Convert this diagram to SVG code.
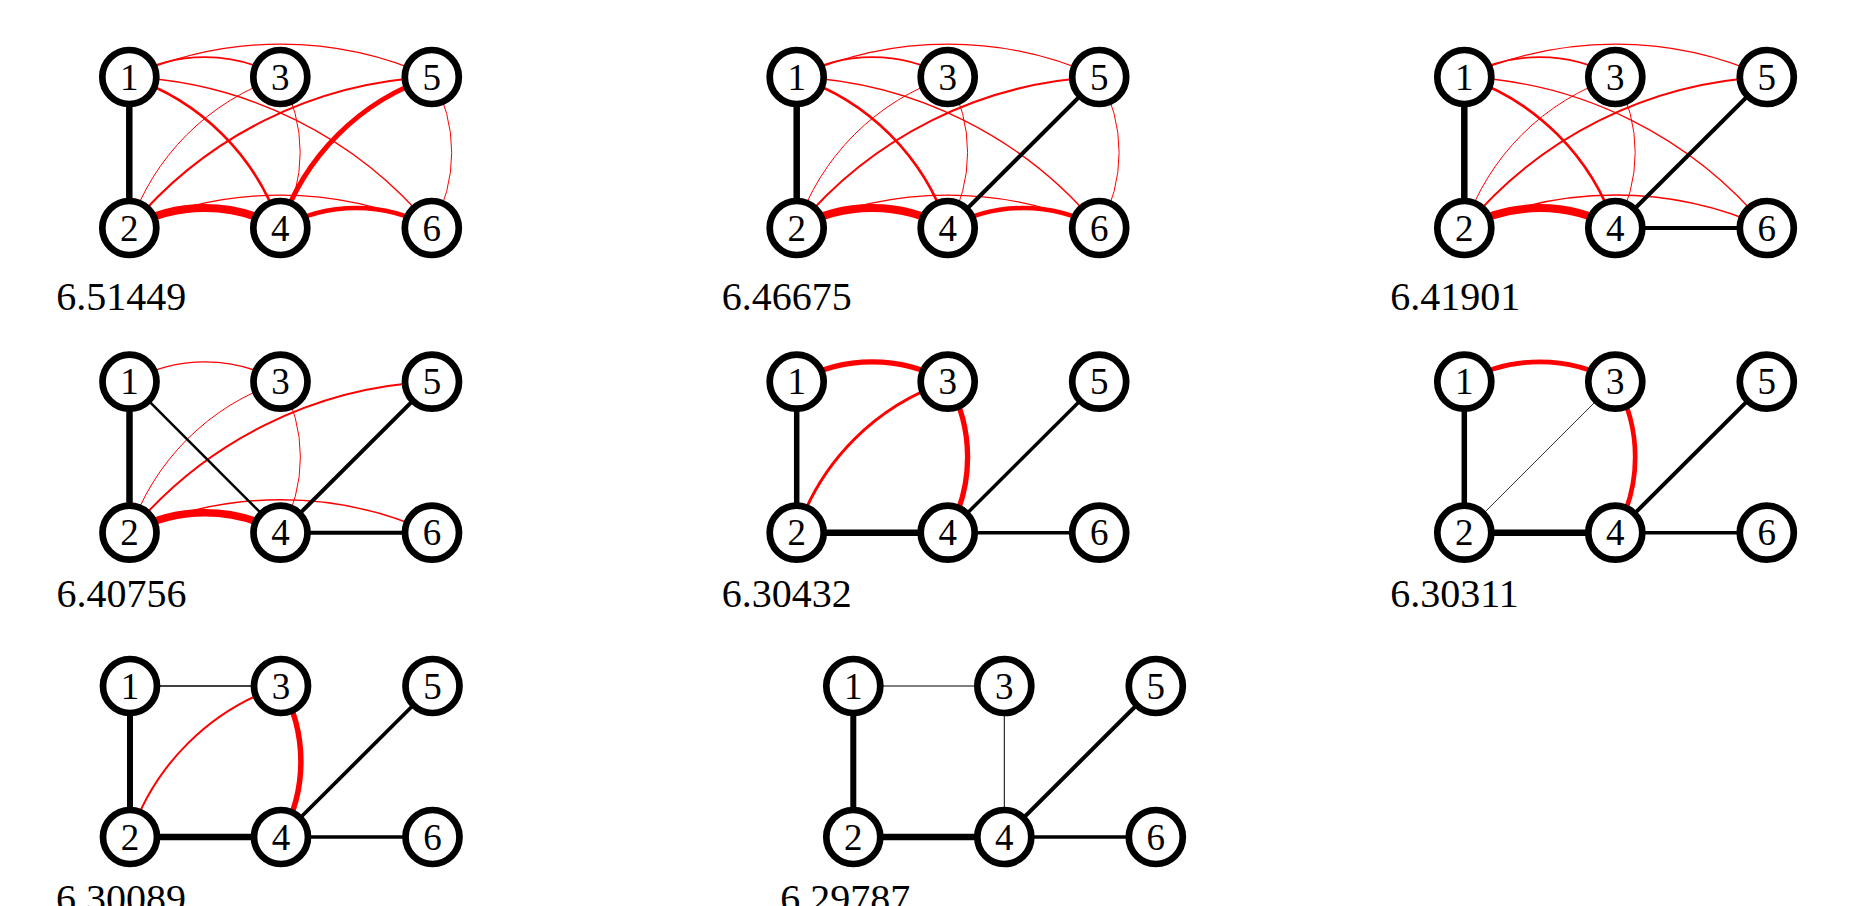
<svg xmlns="http://www.w3.org/2000/svg" width="1863" height="906" viewBox="0 0 1863 906">
<style>
.n circle{fill:#fff;stroke:#000;stroke-width:6.7}
.n text{font-family:'Liberation Serif','Times New Roman',Times,serif;font-size:37px;text-anchor:middle;fill:#000}
.lbl{font-family:'Liberation Serif','Times New Roman',Times,serif;font-size:40px;fill:#000}
.r{fill:none;stroke:#f00}
.k{fill:none;stroke:#000}
</style>
<rect width="1863" height="906" fill="#fff"/>

<!-- Panel 1 -->
<g id="panel1" transform="translate(129.3,77)">
<g id="p1-edges">
<path class="r" stroke-width="1.7" d="M0,0 A153.2,153.2 0 0 1 151,0"/>
<path class="r" stroke-width="1.3" d="M0,0 A364.1,364.1 0 0 1 302.5,0"/>
<path class="r" stroke-width="2.7" d="M0,0 A237.9,237.9 0 0 1 151,151"/>
<path class="r" stroke-width="1.3" d="M0,0 A416,416 0 0 1 302.5,151"/>
<path class="r" stroke-width="1" d="M0,151 A237.9,237.9 0 0 1 151,0"/>
<path class="r" stroke-width="2" d="M0,151 A416,416 0 0 1 302.5,0"/>
<path class="r" stroke-width="1" d="M151,0 A153.2,153.2 0 0 1 151,151"/>
<path class="r" stroke-width="5" d="M151,151 A238,238 0 0 1 302.5,0"/>
<path class="r" stroke-width="1" d="M302.5,0 A153.2,153.2 0 0 1 302.5,151"/>
<path class="r" stroke-width="8" d="M0,151 A153.2,153.2 0 0 1 151,151"/>
<path class="r" stroke-width="1.3" d="M0,151 A364.1,364.1 0 0 1 302.5,151"/>
<path class="r" stroke-width="4.5" d="M151,151 A153.5,153.5 0 0 1 302.5,151"/>
<path class="k" stroke-width="6.5" d="M0,0 V151"/>
</g>
<g id="p1-n1" class="n"><circle cx="0" cy="0" r="27"/><text x="0" y="12.5">1</text></g>
<g id="p1-n2" class="n"><circle cx="0" cy="151" r="27"/><text x="0" y="163.5">2</text></g>
<g id="p1-n3" class="n"><circle cx="151" cy="0" r="27"/><text x="151" y="12.5">3</text></g>
<g id="p1-n4" class="n"><circle cx="151" cy="151" r="27"/><text x="151" y="163.5">4</text></g>
<g id="p1-n5" class="n"><circle cx="302.5" cy="0" r="27"/><text x="302.5" y="12.5">5</text></g>
<g id="p1-n6" class="n"><circle cx="302.5" cy="151" r="27"/><text x="302.5" y="163.5">6</text></g>
<text class="lbl" x="-73" y="233">6.51449</text>
</g>

<!-- Panel 2 -->
<g id="panel2" transform="translate(796.7,77)">
<g id="p2-edges">
<path class="r" stroke-width="1.7" d="M0,0 A153.2,153.2 0 0 1 151,0"/>
<path class="r" stroke-width="1.3" d="M0,0 A364.1,364.1 0 0 1 302.5,0"/>
<path class="r" stroke-width="2.7" d="M0,0 A237.9,237.9 0 0 1 151,151"/>
<path class="r" stroke-width="1.3" d="M0,0 A416,416 0 0 1 302.5,151"/>
<path class="r" stroke-width="1" d="M0,151 A237.9,237.9 0 0 1 151,0"/>
<path class="r" stroke-width="2" d="M0,151 A416,416 0 0 1 302.5,0"/>
<path class="r" stroke-width="1" d="M151,0 A153.2,153.2 0 0 1 151,151"/>
<path class="r" stroke-width="1" d="M302.5,0 A153.2,153.2 0 0 1 302.5,151"/>
<path class="r" stroke-width="8" d="M0,151 A153.2,153.2 0 0 1 151,151"/>
<path class="r" stroke-width="1.3" d="M0,151 A364.1,364.1 0 0 1 302.5,151"/>
<path class="r" stroke-width="4.5" d="M151,151 A153.5,153.5 0 0 1 302.5,151"/>
<path class="k" stroke-width="6.5" d="M0,0 V151"/>
<path class="k" stroke-width="4" d="M151,151 L302.5,0"/>
</g>
<g id="p2-n1" class="n"><circle cx="0" cy="0" r="27"/><text x="0" y="12.5">1</text></g>
<g id="p2-n2" class="n"><circle cx="0" cy="151" r="27"/><text x="0" y="163.5">2</text></g>
<g id="p2-n3" class="n"><circle cx="151" cy="0" r="27"/><text x="151" y="12.5">3</text></g>
<g id="p2-n4" class="n"><circle cx="151" cy="151" r="27"/><text x="151" y="163.5">4</text></g>
<g id="p2-n5" class="n"><circle cx="302.5" cy="0" r="27"/><text x="302.5" y="12.5">5</text></g>
<g id="p2-n6" class="n"><circle cx="302.5" cy="151" r="27"/><text x="302.5" y="163.5">6</text></g>
<text class="lbl" x="-75" y="233">6.46675</text>
</g>

<!-- Panel 3 -->
<g id="panel3" transform="translate(1464.3,77)">
<g id="p3-edges">
<path class="r" stroke-width="1.7" d="M0,0 A153.2,153.2 0 0 1 151,0"/>
<path class="r" stroke-width="1.3" d="M0,0 A364.1,364.1 0 0 1 302.5,0"/>
<path class="r" stroke-width="2.7" d="M0,0 A237.9,237.9 0 0 1 151,151"/>
<path class="r" stroke-width="1.3" d="M0,0 A416,416 0 0 1 302.5,151"/>
<path class="r" stroke-width="1" d="M0,151 A237.9,237.9 0 0 1 151,0"/>
<path class="r" stroke-width="2" d="M0,151 A416,416 0 0 1 302.5,0"/>
<path class="r" stroke-width="1" d="M151,0 A153.2,153.2 0 0 1 151,151"/>
<path class="r" stroke-width="8" d="M0,151 A153.2,153.2 0 0 1 151,151"/>
<path class="r" stroke-width="1.5" d="M0,151 A364.1,364.1 0 0 1 302.5,151"/>
<path class="k" stroke-width="6.5" d="M0,0 V151"/>
<path class="k" stroke-width="4" d="M151,151 L302.5,0"/>
<path class="k" stroke-width="4" d="M151,151 H302.5"/>
</g>
<g id="p3-n1" class="n"><circle cx="0" cy="0" r="27"/><text x="0" y="12.5">1</text></g>
<g id="p3-n2" class="n"><circle cx="0" cy="151" r="27"/><text x="0" y="163.5">2</text></g>
<g id="p3-n3" class="n"><circle cx="151" cy="0" r="27"/><text x="151" y="12.5">3</text></g>
<g id="p3-n4" class="n"><circle cx="151" cy="151" r="27"/><text x="151" y="163.5">4</text></g>
<g id="p3-n5" class="n"><circle cx="302.5" cy="0" r="27"/><text x="302.5" y="12.5">5</text></g>
<g id="p3-n6" class="n"><circle cx="302.5" cy="151" r="27"/><text x="302.5" y="163.5">6</text></g>
<text class="lbl" x="-74" y="233">6.41901</text>
</g>

<!-- Panel 4 -->
<g id="panel4" transform="translate(129.5,381.7)">
<g id="p4-edges">
<path class="r" stroke-width="1.3" d="M0,0 A153.2,153.2 0 0 1 151,0"/>
<path class="r" stroke-width="1" d="M0,151 A237.9,237.9 0 0 1 151,0"/>
<path class="r" stroke-width="2" d="M0,151 A416,416 0 0 1 302.5,0"/>
<path class="r" stroke-width="1" d="M151,0 A153.2,153.2 0 0 1 151,151"/>
<path class="r" stroke-width="7.5" d="M0,151 A153.2,153.2 0 0 1 151,151"/>
<path class="r" stroke-width="1.5" d="M0,151 A364.1,364.1 0 0 1 302.5,151"/>
<path class="k" stroke-width="6.5" d="M0,0 V151"/>
<path class="k" stroke-width="2.5" d="M0,0 L151,151"/>
<path class="k" stroke-width="4" d="M151,151 L302.5,0"/>
<path class="k" stroke-width="4" d="M151,151 H302.5"/>
</g>
<g id="p4-n1" class="n"><circle cx="0" cy="0" r="27"/><text x="0" y="12.5">1</text></g>
<g id="p4-n2" class="n"><circle cx="0" cy="151" r="27"/><text x="0" y="163.5">2</text></g>
<g id="p4-n3" class="n"><circle cx="151" cy="0" r="27"/><text x="151" y="12.5">3</text></g>
<g id="p4-n4" class="n"><circle cx="151" cy="151" r="27"/><text x="151" y="163.5">4</text></g>
<g id="p4-n5" class="n"><circle cx="302.5" cy="0" r="27"/><text x="302.5" y="12.5">5</text></g>
<g id="p4-n6" class="n"><circle cx="302.5" cy="151" r="27"/><text x="302.5" y="163.5">6</text></g>
<text class="lbl" x="-73" y="225.5">6.40756</text>
</g>

<!-- Panel 5 -->
<g id="panel5" transform="translate(796.7,381.7)">
<g id="p5-edges">
<path class="r" stroke-width="5.3" d="M0,0 A153.2,153.2 0 0 1 151,0"/>
<path class="r" stroke-width="3" d="M0,151 A237.9,237.9 0 0 1 151,0"/>
<path class="r" stroke-width="5.3" d="M151,0 A153.2,153.2 0 0 1 151,151"/>
<path class="k" stroke-width="5.5" d="M0,0 V151"/>
<path class="k" stroke-width="6.5" d="M0,151 H151"/>
<path class="k" stroke-width="3.5" d="M151,151 L302.5,0"/>
<path class="k" stroke-width="3.5" d="M151,151 H302.5"/>
</g>
<g id="p5-n1" class="n"><circle cx="0" cy="0" r="27"/><text x="0" y="12.5">1</text></g>
<g id="p5-n2" class="n"><circle cx="0" cy="151" r="27"/><text x="0" y="163.5">2</text></g>
<g id="p5-n3" class="n"><circle cx="151" cy="0" r="27"/><text x="151" y="12.5">3</text></g>
<g id="p5-n4" class="n"><circle cx="151" cy="151" r="27"/><text x="151" y="163.5">4</text></g>
<g id="p5-n5" class="n"><circle cx="302.5" cy="0" r="27"/><text x="302.5" y="12.5">5</text></g>
<g id="p5-n6" class="n"><circle cx="302.5" cy="151" r="27"/><text x="302.5" y="163.5">6</text></g>
<text class="lbl" x="-75" y="225.5">6.30432</text>
</g>

<!-- Panel 6 -->
<g id="panel6" transform="translate(1464.3,381.7)">
<g id="p6-edges">
<path class="k" stroke-width="0.8" d="M0,151 L151,0"/>
<path class="r" stroke-width="4.7" d="M0,0 A153.2,153.2 0 0 1 151,0"/>
<path class="r" stroke-width="4.7" d="M151,0 A153.2,153.2 0 0 1 151,151"/>
<path class="k" stroke-width="5.5" d="M0,0 V151"/>
<path class="k" stroke-width="6.5" d="M0,151 H151"/>
<path class="k" stroke-width="4" d="M151,151 L302.5,0"/>
<path class="k" stroke-width="3.5" d="M151,151 H302.5"/>
</g>
<g id="p6-n1" class="n"><circle cx="0" cy="0" r="27"/><text x="0" y="12.5">1</text></g>
<g id="p6-n2" class="n"><circle cx="0" cy="151" r="27"/><text x="0" y="163.5">2</text></g>
<g id="p6-n3" class="n"><circle cx="151" cy="0" r="27"/><text x="151" y="12.5">3</text></g>
<g id="p6-n4" class="n"><circle cx="151" cy="151" r="27"/><text x="151" y="163.5">4</text></g>
<g id="p6-n5" class="n"><circle cx="302.5" cy="0" r="27"/><text x="302.5" y="12.5">5</text></g>
<g id="p6-n6" class="n"><circle cx="302.5" cy="151" r="27"/><text x="302.5" y="163.5">6</text></g>
<text class="lbl" x="-74" y="225.5">6.30311</text>
</g>

<!-- Panel 7 -->
<g id="panel7" transform="translate(130,686)">
<g id="p7-edges">
<path class="k" stroke-width="1.3" d="M0,0 H151"/>
<path class="r" stroke-width="2" d="M0,151 A237.9,237.9 0 0 1 151,0"/>
<path class="r" stroke-width="5.5" d="M151,0 A153.2,153.2 0 0 1 151,151"/>
<path class="k" stroke-width="6" d="M0,0 V151"/>
<path class="k" stroke-width="6.5" d="M0,151 H151"/>
<path class="k" stroke-width="3.7" d="M151,151 L302.5,0"/>
<path class="k" stroke-width="3.5" d="M151,151 H302.5"/>
</g>
<g id="p7-n1" class="n"><circle cx="0" cy="0" r="27"/><text x="0" y="12.5">1</text></g>
<g id="p7-n2" class="n"><circle cx="0" cy="151" r="27"/><text x="0" y="163.5">2</text></g>
<g id="p7-n3" class="n"><circle cx="151" cy="0" r="27"/><text x="151" y="12.5">3</text></g>
<g id="p7-n4" class="n"><circle cx="151" cy="151" r="27"/><text x="151" y="163.5">4</text></g>
<g id="p7-n5" class="n"><circle cx="302.5" cy="0" r="27"/><text x="302.5" y="12.5">5</text></g>
<g id="p7-n6" class="n"><circle cx="302.5" cy="151" r="27"/><text x="302.5" y="163.5">6</text></g>
<text class="lbl" x="-74" y="226">6.30089</text>
</g>

<!-- Panel 8 -->
<g id="panel8" transform="translate(853.3,686)">
<g id="p8-edges">
<path class="k" stroke="#333" stroke-width="1.2" d="M0,0 H151"/>
<path class="k" stroke="#444" stroke-width="1" d="M151,0 V151"/>
<path class="k" stroke-width="6" d="M0,0 V151"/>
<path class="k" stroke-width="6.5" d="M0,151 H151"/>
<path class="k" stroke-width="4" d="M151,151 L302.5,0"/>
<path class="k" stroke-width="3.5" d="M151,151 H302.5"/>
</g>
<g id="p8-n1" class="n"><circle cx="0" cy="0" r="27"/><text x="0" y="12.5">1</text></g>
<g id="p8-n2" class="n"><circle cx="0" cy="151" r="27"/><text x="0" y="163.5">2</text></g>
<g id="p8-n3" class="n"><circle cx="151" cy="0" r="27"/><text x="151" y="12.5">3</text></g>
<g id="p8-n4" class="n"><circle cx="151" cy="151" r="27"/><text x="151" y="163.5">4</text></g>
<g id="p8-n5" class="n"><circle cx="302.5" cy="0" r="27"/><text x="302.5" y="12.5">5</text></g>
<g id="p8-n6" class="n"><circle cx="302.5" cy="151" r="27"/><text x="302.5" y="163.5">6</text></g>
<text class="lbl" x="-73" y="226">6.29787</text>
</g>
</svg>
